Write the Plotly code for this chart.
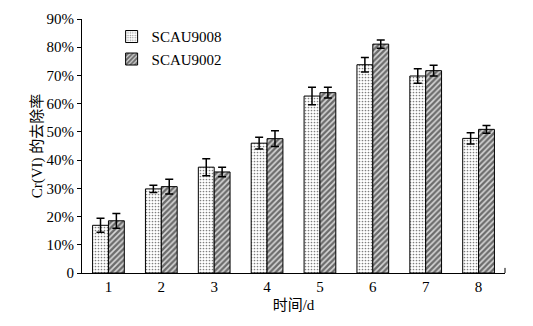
import plotly.graph_objects as go

categories = ["1", "2", "3", "4", "5", "6", "7", "8"]
s1_name = "SCAU9008"
s2_name = "SCAU9002"
s1_vals = [16.9, 29.8, 37.5, 46.0, 62.7, 73.8, 69.8, 47.7]
s1_err = [2.5, 1.3, 3.0, 2.1, 3.1, 2.6, 2.6, 2.0]
s2_vals = [18.5, 30.6, 35.8, 47.6, 63.9, 81.1, 71.7, 50.9]
s2_err = [2.6, 2.6, 1.7, 2.8, 1.9, 1.5, 1.9, 1.4]
y_tickvals = [0, 10, 20, 30, 40, 50, 60, 70, 80, 90]
y_ticktext = ["0", "10%", "20%", "30%", "40%", "50%", "60%", "70%", "80%", "90%"]

serif = "Liberation Serif, Times New Roman, serif"
cjk = "Liberation Serif, Noto Sans CJK SC, serif"
fs = 15

fig = go.Figure()
fig.add_trace(go.Bar(
    x=categories, y=s1_vals, name=s1_name,
    error_y=dict(type="data", array=s1_err, color="black", thickness=1.5, width=4),
    marker=dict(color="white", line=dict(color="black", width=1),
                pattern=dict(shape=".", fgcolor="black", bgcolor="white", size=3, solidity=0.25)),
))
fig.add_trace(go.Bar(
    x=categories, y=s2_vals, name=s2_name,
    error_y=dict(type="data", array=s2_err, color="black", thickness=1.5, width=4),
    marker=dict(color="white", line=dict(color="black", width=1),
                pattern=dict(shape="/", fgcolor="black", bgcolor="#d8d8d8", size=4, solidity=0.6)),
))

fig.update_layout(
    width=533, height=326,
    margin=dict(l=82, r=28, t=19, b=53, autoexpand=False),
    paper_bgcolor="white", plot_bgcolor="white",
    barmode="group", bargap=0.4, bargroupgap=0,
    font=dict(family=serif, size=fs, color="black"),
    showlegend=True,
    legend=dict(x=0.07, y=0.995, xanchor="left", yanchor="top",
                bgcolor="rgba(0,0,0,0)", font=dict(family=serif, size=fs),
                itemwidth=30, tracegroupgap=0),
    xaxis=dict(showline=True, linecolor="black", linewidth=1, ticks="",
               showgrid=False, tickfont=dict(family=serif, size=fs),
               title=dict(text="时间/d", font=dict(family=cjk, size=fs), standoff=5)),
    yaxis=dict(range=[0, 90], tickvals=y_tickvals, ticktext=y_ticktext,
               showline=True, linecolor="black", linewidth=1, ticks="outside",
               ticklen=4, tickcolor="black", showgrid=False, zeroline=False,
               tickfont=dict(family=serif, size=fs),
               title=dict(text="Cr(VI) 的去除率", font=dict(family=cjk, size=fs), standoff=0)),
)
fig.add_shape(type="line", xref="paper", yref="paper", x0=1, x1=1, y0=0, y1=0.02,
              line=dict(color="black", width=1))

fig.write_html("out.html", config={"displayModeBar": False},
               post_script="document.body.style.margin='0';")
